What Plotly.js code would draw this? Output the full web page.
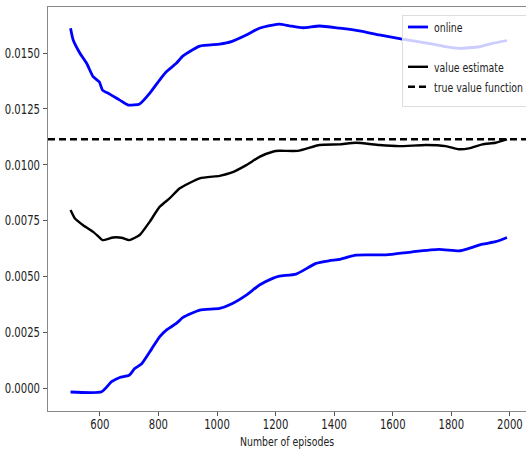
<!DOCTYPE html>
<html>
<head>
<meta charset="utf-8">
<script src="https://cdn.plot.ly/plotly-3.0.1.min.js"></script>
<style>
html,body{margin:0;padding:0;background:#fff;}
#chart{width:526px;height:449px;}
</style>
</head>
<body>
<div id="chart"></div>
<script>
const upperEp = [500, 509, 532, 555, 577, 598, 609, 634, 668, 697, 736, 770, 804, 827, 861, 884, 941, 1009, 1049, 1100, 1145, 1190, 1213, 1247, 1293, 1350, 1418, 1486, 1554, 1628, 1701, 1770, 1826, 1895, 1940, 1990];
const upperVal = [0.01611, 0.01558, 0.01499, 0.01454, 0.01394, 0.01371, 0.01334, 0.01316, 0.01289, 0.01267, 0.01272, 0.01319, 0.01379, 0.01416, 0.01454, 0.01487, 0.01531, 0.01540, 0.01551, 0.01581, 0.01611, 0.01625, 0.01629, 0.01622, 0.01613, 0.01621, 0.01611, 0.01599, 0.01581, 0.01563, 0.01548, 0.01531, 0.01521, 0.01528, 0.01543, 0.01556];

const estEp = [500, 515, 543, 577, 594, 609, 645, 674, 700, 736, 770, 804, 838, 873, 941, 1009, 1049, 1100, 1145, 1190, 1213, 1276, 1350, 1418, 1474, 1554, 1622, 1713, 1781, 1826, 1860, 1906, 1951, 1990];
const estVal = [0.00797, 0.00759, 0.00729, 0.00699, 0.00680, 0.00662, 0.00674, 0.00673, 0.00662, 0.00685, 0.00744, 0.00811, 0.00849, 0.00894, 0.00939, 0.00950, 0.00964, 0.00998, 0.01035, 0.01058, 0.01062, 0.01062, 0.01088, 0.01091, 0.01098, 0.01088, 0.01083, 0.01088, 0.01083, 0.01069, 0.01073, 0.01091, 0.01098, 0.01113];

const lowerEp = [500, 606, 640, 668, 700, 719, 742, 776, 804, 827, 861, 884, 941, 1009, 1049, 1100, 1145, 1190, 1213, 1270, 1338, 1384, 1418, 1474, 1577, 1667, 1758, 1826, 1860, 1906, 1951, 1990];
const lowerVal = [-0.00018, -0.00017, 0.00028, 0.00047, 0.00057, 0.00087, 0.00107, 0.00173, 0.00229, 0.00259, 0.00289, 0.00316, 0.00349, 0.00356, 0.00376, 0.00416, 0.00461, 0.00491, 0.00501, 0.00510, 0.00558, 0.00570, 0.00576, 0.00595, 0.00596, 0.00610, 0.00621, 0.00614, 0.00625, 0.00644, 0.00655, 0.00674];

const trueValue = 0.01114;
const trueEp = [423, 2055];
const trueVal = [trueValue, trueValue];

const xTicks = [600, 800, 1000, 1200, 1400, 1600, 1800, 2000];
const yTicks = [0.0000, 0.0025, 0.0050, 0.0075, 0.0100, 0.0125, 0.0150];

const fam = '"DejaVu Sans", sans-serif';
const SX = 0.72; // horizontal squeeze of the reference's text

const traces = [
  {x: upperEp, y: upperVal, mode: 'lines', name: 'online', line: {color: '#0000ff', width: 2.8, shape: 'spline', smoothing: 0.5}},
  {x: [null], y: [null], mode: 'lines', name: ' ', line: {color: 'rgba(0,0,0,0)', width: 2}},
  {x: estEp, y: estVal, mode: 'lines', name: 'value estimate', line: {color: '#000000', width: 2.4, shape: 'spline', smoothing: 0.5}},
  {x: trueEp, y: trueVal, mode: 'lines', name: 'true value function', line: {color: '#000000', width: 2.4, dash: '7px,4px'}},
  {x: lowerEp, y: lowerVal, mode: 'lines', name: 'online', showlegend: false, line: {color: '#0000ff', width: 2.8, shape: 'spline', smoothing: 0.5}}
];

const layout = {
  width: 526, height: 449,
  margin: {l: 48, r: 0, t: 7, b: 38, autoexpand: false},
  paper_bgcolor: '#ffffff', plot_bgcolor: '#ffffff',
  font: {family: fam, size: 13, color: '#222'},
  showlegend: true,
  legend: {
    x: 0.7406, y: 0.99, xanchor: 'left', yanchor: 'top',
    bgcolor: 'rgba(255,255,255,0.8)', bordercolor: '#dddddd', borderwidth: 1,
    font: {family: fam, size: 13, color: '#222'},
    traceorder: 'normal', itemwidth: 30
  },
  xaxis: {
    range: [423, 2055], tickvals: xTicks, ticktext: xTicks.map(String),
    showgrid: false, zeroline: false, ticklabeloverflow: 'allow', ticklabelstandoff: -4,
    showline: true, linecolor: '#888', linewidth: 1.2, mirror: true,
    ticks: 'outside', ticklen: 4, tickcolor: '#555',
    tickfont: {family: fam, size: 14, color: '#222'},
    title: {text: 'Number of episodes', font: {family: fam, size: 13, color: '#222'}, standoff: 6}
  },
  yaxis: {
    range: [-0.00103, 0.01706], tickvals: yTicks, ticktext: yTicks.map(v => v.toFixed(4)),
    showgrid: false, zeroline: false, ticklabeloverflow: 'allow',
    showline: true, linecolor: '#888', linewidth: 1.2, mirror: false,
    ticks: 'outside', ticklen: 4, tickcolor: '#555',
    tickfont: {family: fam, size: 14, color: '#222'}
  }
};

function squeeze(gd) {
  gd.querySelectorAll('.xtick text, .ytick text, .legendtext, .g-xtitle text').forEach(t => {
    const w = t.getComputedTextLength();
    if (w > 0) {
      t.setAttribute('textLength', (w * SX).toFixed(2));
      t.setAttribute('lengthAdjust', 'spacingAndGlyphs');
    }
  });
  gd.querySelectorAll('.legendlines path').forEach(p => p.setAttribute('d', 'M5,0h20'));
  gd.querySelectorAll('.legendtext').forEach(t => t.setAttribute('x', '31'));
  const bg = gd.querySelector('.legend rect.bg');
  if (bg && bg.getAttribute('y') !== null) {
    bg.setAttribute('y', String(parseFloat(bg.getAttribute('y')) + 4));
  }
}

Plotly.newPlot('chart', traces, layout, {displayModeBar: false, staticPlot: true}).then(squeeze);
</script>
</body>
</html>
